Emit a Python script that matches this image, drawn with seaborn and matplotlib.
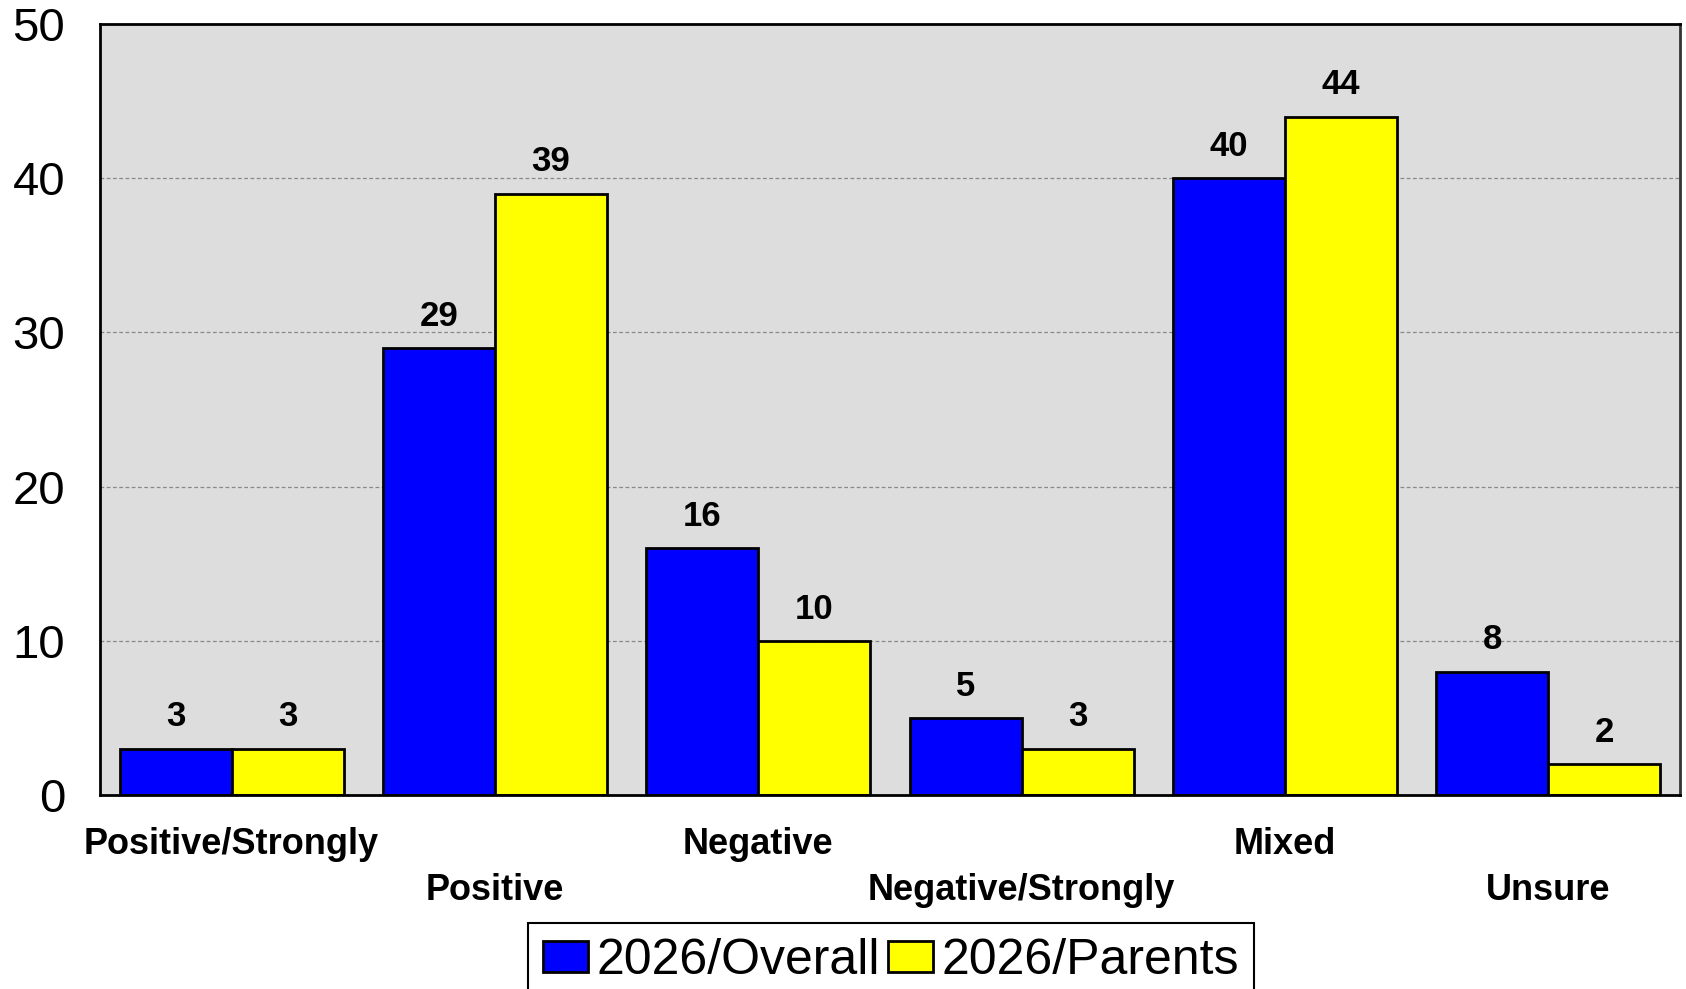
import matplotlib
matplotlib.use("Agg")
import matplotlib.pyplot as plt
import seaborn as sns
import pandas as pd

categories = ["Positive/Strongly", "Positive", "Negative", "Negative/Strongly", "Mixed", "Unsure"]
overall = [3, 29, 16, 5, 40, 8]
parents = [3, 39, 10, 3, 44, 2]
series_names = ["2026/Overall", "2026/Parents"]
y_ticks = [0, 10, 20, 30, 40, 50]

sns.set_theme(style="white")
plt.rcParams["font.family"] = ["Liberation Sans", "DejaVu Sans"]
plt.rcParams["text.color"] = "black"
plt.rcParams["xtick.color"] = "black"
plt.rcParams["ytick.color"] = "black"
plt.rcParams["axes.labelcolor"] = "black"

df = pd.DataFrame({
    "category": categories * 2,
    "value": overall + parents,
    "series": [series_names[0]] * len(categories) + [series_names[1]] * len(categories),
})

fig = plt.figure(figsize=(16.86, 9.89), dpi=100)
ax = fig.add_axes([100 / 1686, 1 - 795 / 989, 1580 / 1686, 771 / 989])
ax.set_facecolor("#DDDDDD")

sns.barplot(data=df, x="category", y="value", hue="series", order=categories,
            hue_order=series_names, palette=["#0000FF", "#FFFF00"], saturation=1,
            edgecolor="black", linewidth=2, width=0.85, ax=ax, legend=True)

ax.set_xlim(-0.5, len(categories) - 0.5)
ax.set_ylim(0, 50)
ax.set_yticks(y_ticks)
ax.set_yticklabels([str(t) for t in y_ticks], fontsize=34, color="black")
ax.yaxis.grid(True, linestyle=(0, (3, 2)), color="#888888", linewidth=0.9)
ax.xaxis.grid(False)
ax.set_axisbelow(True)
ax.tick_params(axis="y", length=0, pad=25)
ax.tick_params(axis="x", length=0, pad=23)
ax.set_xlabel("")
ax.set_ylabel("")
for s in ax.spines.values():
    s.set_visible(True)
    s.set_color("black")
    s.set_linewidth(2)
ax.spines["right"].set_color("#333333")

ax.set_xticks(range(len(categories)))
labels = [c if i % 2 == 0 else "\n" + c for i, c in enumerate(categories)]
ax.set_xticklabels(labels, fontsize=26, fontweight="bold", linespacing=1.4, color="black")

for cont in ax.containers:
    ax.bar_label(cont, fmt="%d", padding=11, fontsize=25, fontweight="bold", color="black")

handles, labs = ax.get_legend_handles_labels()
ax.get_legend().remove()
leg = fig.legend(handles, labs, loc="upper center", bbox_to_anchor=(891 / 1686, 1 - 923 / 989),
                 ncol=2, fontsize=36, frameon=True, fancybox=False, framealpha=1,
                 edgecolor="black", handlelength=0.9, handleheight=0.6,
                 handletextpad=0.17, columnspacing=0.15, borderpad=0.3, borderaxespad=0)
leg.get_frame().set_linewidth(1.5)
for t in leg.get_texts():
    t.set_color("black")

fig.savefig("out.png", dpi=100)
